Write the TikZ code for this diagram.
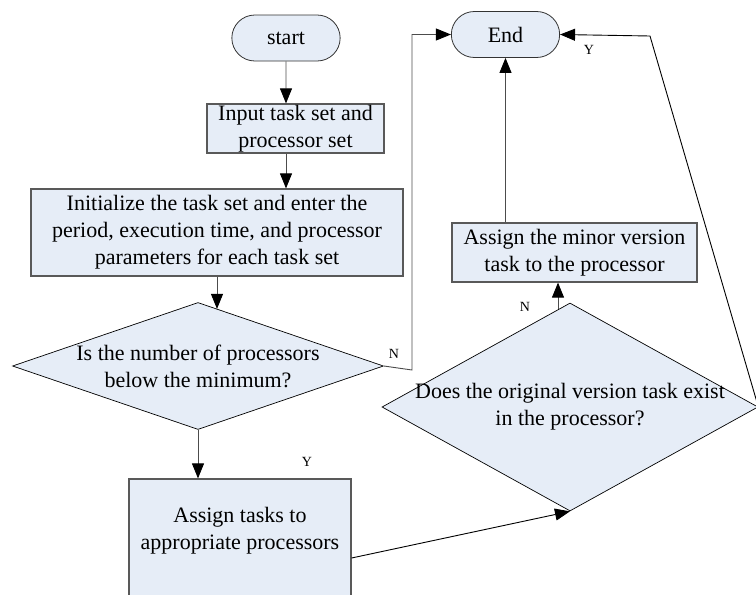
\documentclass[tikz,border=0pt]{standalone}
\usepackage{fontspec}
\setmainfont{Liberation Serif}
\usetikzlibrary{shapes.geometric,shapes.misc,arrows.meta}
\definecolor{boxfill}{RGB}{230,237,247}
\begin{document}
\begin{tikzpicture}[
  x=1pt, y=-1pt,
  >={Triangle[length=15pt,width=12pt,color=black]},
  every node/.style={font=\fontsize{22}{27}\selectfont},
  term/.style={rounded rectangle, draw=black!80, fill=boxfill, line width=0.8pt,
    minimum width=115pt, minimum height=46pt},
  proc/.style={rectangle, draw=black!65, fill=boxfill, line width=1.2pt,
    align=center, inner sep=0pt},
  decide/.style={diamond, draw=black, fill=boxfill, line width=0.7pt,
    align=center, inner xsep=-40pt, inner ysep=-12pt},
  flow/.style={->, draw=black!70, line width=0.9pt},
  tag/.style={font=\fontsize{14}{16}\selectfont}
]
  \useasboundingbox (0,0) rectangle (756,595);
  % terminals
  \node[term] (start) at (286,38) {start};
  \node[term] (End) at (505.5,34.5) {End};
  % left column
  \node[proc, minimum width=177pt, minimum height=49pt] (input) at (295.5,128.5)
    {Input task set and\\processor set};
  \node[proc, minimum width=372pt, minimum height=87pt] (init) at (217,232.5)
    {Initialize the task set and enter the\\period, execution time, and processor\\parameters for each task set};
  \node[decide, aspect=2.92, minimum width=371pt, minimum height=127pt] (dec1) at (198,366)
    {Is the number of processors\\below the minimum?};
  \node[proc, minimum width=222pt, minimum height=158pt,
    label={[align=center, yshift=27pt]center:Assign tasks to\\appropriate processors}]
    (assign) at (240,558) {};
  % right column
  \node[decide, aspect=1.81, minimum width=376pt, minimum height=208pt] (dec2) at (570,407)
    {Does the original version task exist\\in the processor?};
  \node[proc, minimum width=245pt, minimum height=59pt] (minor) at (574.5,252.5)
    {Assign the minor version\\task to the processor};
  % connectors
  \draw[flow] (start) -- (input.north -| start);
  \draw[flow] (input.south -| start) -- (init.north -| start);
  \draw[flow] (init.south) -- (init.south |- dec1.71.6);
  \coordinate (nbend) at (412,370);
  \draw[flow] (dec1.east) -- (nbend) |- (End.west);
  \node[tag] (n1) at (394,354) {N};
  \draw[flow] (dec1.south) -- (dec1.south |- assign.north);
  \node[tag] (y1) at (307,462) {Y};
  \draw[flow, draw=black] (assign.east) -- (dec2.south);
  \draw[flow] (dec2.97.6) -- (dec2.97.6 |- minor.south);
  \node[tag] (n2) at (525,307) {N};
  \draw[flow] (End.south |- minor.north) -- (End.south);
  \coordinate (ybend) at (650,36);
  \draw[flow, draw=black] (dec2.east) -- (ybend) -- (End.east);
  \node[tag] (y2) at (589,50) {Y};
\end{tikzpicture}
\end{document}
